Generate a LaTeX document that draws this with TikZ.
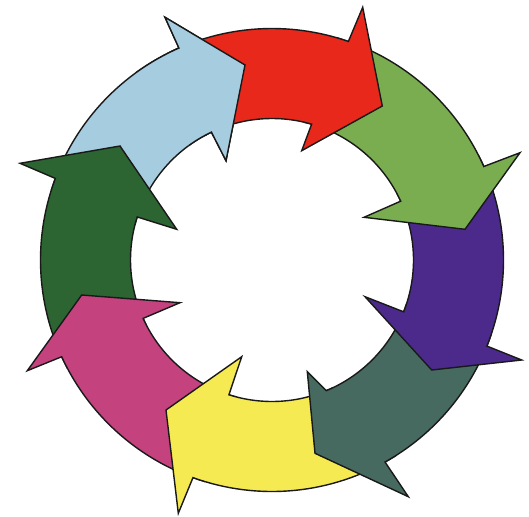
\documentclass[tikz,border=0pt]{standalone}
\definecolor{cRed}{RGB}{232,40,26}
\definecolor{cGreen}{RGB}{122,172,80}
\definecolor{cPurple}{RGB}{76,42,140}
\definecolor{cSlate}{RGB}{70,106,96}
\definecolor{cYellow}{RGB}{246,234,82}
\definecolor{cMagenta}{RGB}{196,66,126}
\definecolor{cDkGreen}{RGB}{44,100,50}
\definecolor{cLtBlue}{RGB}{166,204,224}
\newcommand\Ro{231.5}
\newcommand\Ri{141.5}
% #1 colour, #2 tail outer angle, #3 outer base angle, #4 outer barb, #5 tip, #6 inner barb, #7 inner base angle, #8 tail inner angle
\newcommand\ringarrow[8]{%
  \path[arrowshape, fill=#1] (#2:\Ro) arc[start angle=#2, end angle=#3, radius=\Ro]
    -- #4 -- #5 -- #6 -- (#7:\Ri) arc[start angle=#7, end angle=#8, radius=\Ri] -- cycle;}
\newcommand\lightbluearrow{\ringarrow{cLtBlue}{162.37}{113.71}{(-107,242.7)}{(-27,195)}{(-46,99.3)}{115.35}{165.29}}
\begin{document}
\begin{tikzpicture}[x=1pt,y=1pt,
  arrowshape/.style={draw=black!90, line width=1.4pt, line join=miter}]
\useasboundingbox (0,0) rectangle (529,-516);
\fill[white] (0,0) rectangle (529,-516);
\begin{scope}[shift={(272,-260)}]
  % light blue
  \lightbluearrow
  % dark green
  \ringarrow{cDkGreen}{-152.3}{-200.63}{(-252,96.7)}{(-152,114)}{(-95.3,30.7)}{-197.71}{-152.63}
  % magenta
  \ringarrow{cMagenta}{-106.96}{-155.3}{(-244.7,-110.7)}{(-190.3,-35)}{(-92,-42.7)}{-155.63}{-104.73}
  % yellow
  \ringarrow{cYellow}{-57.77}{-109.96}{(-93.7,-253.3)}{(-106,-150)}{(-30.3,-96.7)}{-107.73}{-64.45}
  % slate
  \ringarrow{cSlate}{-18.83}{-60.77}{(136.3,-236.7)}{(43,-193.3)}{(35.3,-111.7)}{-67.45}{-18.49}
  % purple
  \ringarrow{cPurple}{26.82}{-21.83}{(249.7,-100)}{(159.7,-110)}{(93,-36.7)}{-21.49}{27.57}
  % light green
  \ringarrow{cGreen}{73.74}{23.82}{(248,107.3)}{(193,30.7)}{(92,42.7)}{24.57}{76.73}
  % red
  \ringarrow{cRed}{116.7}{70.74}{(90.7,252.7)}{(110.3,154)}{(29.7,109.3)}{73.73}{118.35}
  % light blue head over red tail
  \begin{scope}
    \clip (0,0) -- (92:320) arc[start angle=92, end angle=126, radius=320] -- cycle;
    \lightbluearrow
  \end{scope}
\end{scope}
\end{tikzpicture}
\end{document}
